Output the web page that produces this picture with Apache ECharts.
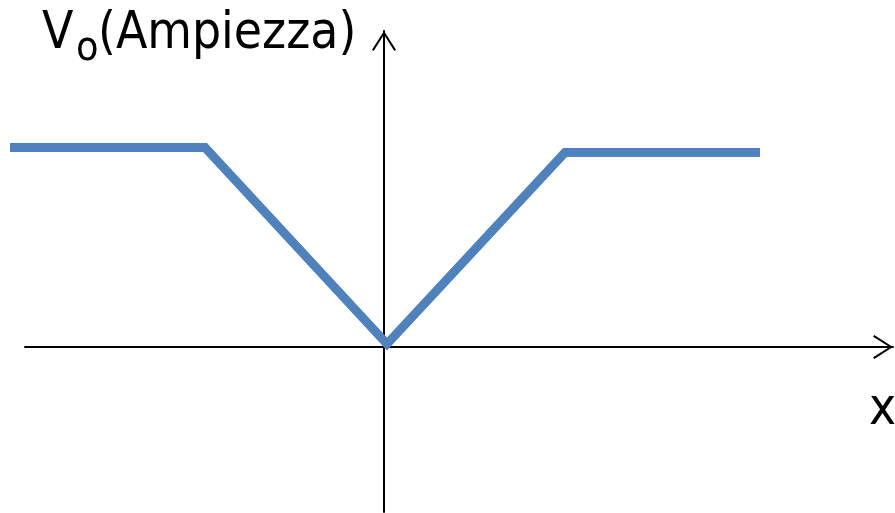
<!DOCTYPE html>
<html lang="it">
<head>
    <meta charset="UTF-8">
    <title>Vo(Ampiezza)</title>
    <script src="https://cdn.jsdelivr.net/npm/echarts@6/dist/echarts.min.js"></script>
    <style>
        html, body { margin: 0; padding: 0; background: #fff; }
    </style>
</head>
<body>
<div id="container" style="width:895px;height:513px;"></div>
<script>
    // punti della curva (x, ampiezza)
    var xValues = [-3.74, -1.79, 0.03, 1.81, 3.76];
    var yValues = [1.995, 1.995, 0.03, 1.945, 1.945];
    var yName = ['V', 'o', '(Ampiezza)'];
    var xName = 'x';

    var points = xValues.map(function (v, i) {
        return [v, yValues[i]];
    });

    // freccia aperta (punta verso l'alto, il sistema la ruota)
    var arrowPath = 'path://M12,0 L24,18.6 L22.3,19.8 L12,3.4 L1.7,19.8 L0,18.6 Z';

    var axisLine = {
        show: true,
        onZero: true,
        symbol: ['none', arrowPath],
        symbolSize: [24, 20],
        symbolOffset: [0, -10],
        lineStyle: { color: '#000', width: 2 }
    };
    var hidden = { show: false };

    var myChart = echarts.init(document.getElementById('container'));
    var font = '"DejaVu Sans Condensed", "DejaVu Sans", Verdana, sans-serif';

    myChart.setOption({
        animation: false,
        backgroundColor: '#fff',
        grid: [
            { left: 25, right: 2, top: 31, bottom: 1, outerBoundsMode: 'none' },
            // stessa scala, più larga: la curva parte prima dell'asse
            { left: 0, right: 2, top: 31, bottom: 1, outerBoundsMode: 'none' }
        ],
        xAxis: [{
            type: 'value',
            gridIndex: 0,
            min: -3.59,
            max: 5.09,
            axisLine: axisLine,
            axisTick: hidden,
            axisLabel: hidden,
            splitLine: hidden
        }, {
            type: 'value',
            gridIndex: 1,
            min: -3.84,
            max: 5.09,
            show: false
        }],
        yAxis: [{
            type: 'value',
            gridIndex: 0,
            min: -1.65,
            max: 3.16,
            axisLine: axisLine,
            axisTick: hidden,
            axisLabel: hidden,
            splitLine: hidden
        }, {
            type: 'value',
            gridIndex: 1,
            min: -1.65,
            max: 3.16,
            show: false
        }],
        graphic: [
            { type: 'text', left: 42, top: 9, style: { text: yName[0], font: '51px ' + font, fill: '#000' } },
            { type: 'text', left: 76, top: 29, style: { text: yName[1], font: '41px ' + font, fill: '#000' } },
            { type: 'text', left: 98, top: 9, style: { text: yName[2], font: '51px ' + font, fill: '#000' } },
            { type: 'text', left: 869, top: 385, style: { text: xName, font: '51px ' + font, fill: '#000' } }
        ],
        series: [{
            type: 'line',
            xAxisIndex: 1,
            yAxisIndex: 1,
            data: points,
            showSymbol: false,
            lineStyle: { color: '#4F81BD', width: 9, cap: 'butt', join: 'miter' }
        }]
    });
</script>
</body>
</html>
